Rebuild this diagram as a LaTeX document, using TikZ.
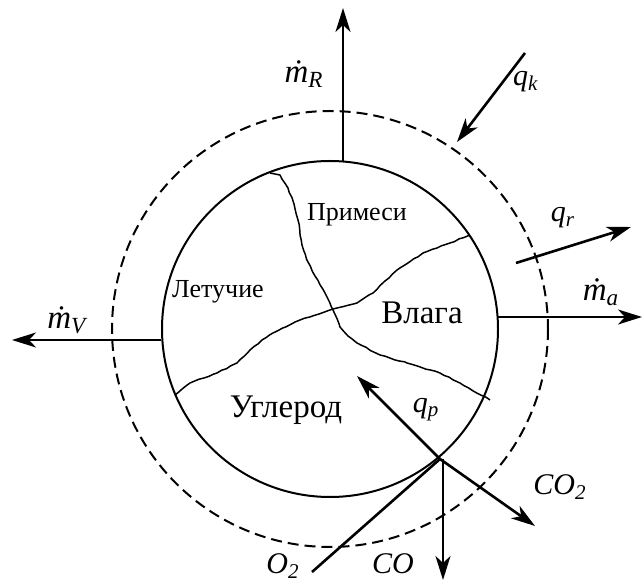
\documentclass[tikz,border=0pt]{standalone}
\usepackage{fontspec}
\setmainfont{Liberation Serif}
\usetikzlibrary{arrows.meta,decorations.pathmorphing}

\newcommand*{\cx}{330}
\newcommand*{\cy}{329}
\newcommand*{\rcore}{168}
\newcommand*{\rfilm}{218}
\newcommand*{\flux}[2]{\textit{#1}\textsubscript{\textit{#2}}}
\newcommand*{\mflux}[1]{\textit{\.{m}}\textsubscript{\textit{#1}}}

\begin{document}
\begin{tikzpicture}
[
	x=0.5pt,y=-0.5pt,
	flow/.style={line width=1.3pt,-{Stealth[length=12pt,width=7.5pt,inset=3.5pt]}},
	crack/.style={line width=0.75pt,line join=round,decorate,decoration={random steps,segment length=2.5pt,amplitude=0.25pt}},
	small/.style={font=\fontsize{13}{15}\selectfont},
	big/.style={font=\fontsize{16.5}{19}\selectfont},
	sym/.style={font=\fontsize{15}{17}\selectfont},
	msym/.style={font=\fontsize{16.5}{19}\selectfont}
]
	\useasboundingbox (0,0) rectangle (643,582);
	\pgfmathsetseed{5}

	% particle and boundary layer
	\draw[line width=1pt] (\cx,\cy) circle[radius=\rcore];
	\draw[line width=1pt,dash pattern=on 5.5pt off 3pt] (\cx,\cy) circle[radius=\rfilm];

	% boundaries between the components
	\draw[crack] (270,173) -- (280,175) -- (288,188) -- (294,204) -- (298,220) -- (302,245)
		-- (308,262) -- (315,276) -- (325,293) -- (333,310) -- (340,327) -- (348,336)
		-- (357,343) -- (380,355) -- (407,363) -- (440,373) -- (460,383) -- (490,400);
	\draw[crack] (175,395) -- (190,383) -- (217,373) -- (237,363) -- (250,350) -- (262,340)
		-- (273,333) -- (300,320) -- (333,309) -- (357,303) -- (373,293) -- (385,281)
		-- (397,270) -- (423,253) -- (450,243) -- (470,235);

	% components
	\node[small] (imp) at (357,215) {Примеси};
	\node[small] (vol) at (218,292) {Летучие};
	\node[big] (moist) at (422,313) {Влага};
	\node[big] (carb) at (286,410) {Углерод};

	% end points of the flows
	\coordinate (mR0) at (343,162);
	\coordinate (mR1) at (343,8);
	\coordinate (qk0) at (525,53);
	\coordinate (qk1) at (457,142);
	\coordinate (qr0) at (516,263);
	\coordinate (qr1) at (631,227);
	\coordinate (ma0) at (497,317);
	\coordinate (ma1) at (642,317);
	\coordinate (mV0) at (161,340);
	\coordinate (mV1) at (12,340);
	\coordinate (surf) at (440,459);
	\coordinate (qp1) at (357,376);
	\coordinate (co21) at (535,526);
	\coordinate (co0) at (443,459);
	\coordinate (co1) at (443,580);
	\coordinate (o20) at (312,572);

	% flows
	\draw[flow] (mR0) -- (mR1);
	\draw[flow] (qk0) -- (qk1);
	\draw[flow] (qr0) -- (qr1);
	\draw[flow] (ma0) -- (ma1);
	\draw[flow] (mV0) -- (mV1);
	\draw[flow] (surf) -- (qp1);
	\draw[flow] (surf) -- (co21);
	\draw[flow] (co0) -- (co1);
	\draw[line width=1.3pt] (o20) -- (surf);

	% flow labels
	\node[msym] (lmR) at (304,74) {\mflux{R}};
	\node[sym] (lqk) at (526,82) {\flux{q}{k}};
	\node[sym] (lqr) at (563,218) {\flux{q}{r}};
	\node[msym] (lma) at (601,292) {\mflux{a}};
	\node[msym] (lmV) at (68,320) {\mflux{V}};
	\node[sym] (lqp) at (426,410) {\flux{q}{p}};
	\node[sym] (lco2) at (560,487) {\textit{CO}\textsubscript{\textit{2}}};
	\node[sym,anchor=base,inner sep=0pt] (lo2) at (283,574) {\textit{O}\textsubscript{\textit{2}}};
	\node[sym,anchor=base,inner sep=0pt] (lco) at (393,574) {\textit{CO}};

\end{tikzpicture}
\end{document}
